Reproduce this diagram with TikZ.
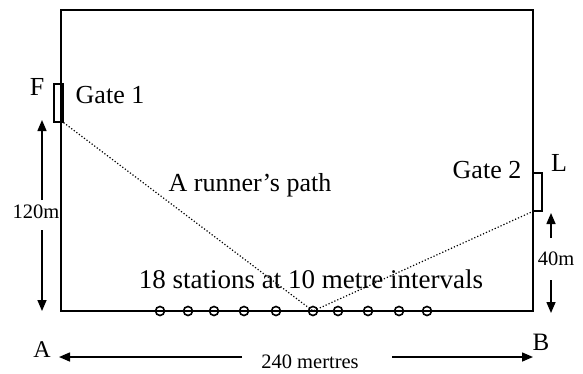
\documentclass[tikz,border=0pt]{standalone}
\usepackage{fontspec}
\setmainfont{Liberation Serif}
\usetikzlibrary{arrows.meta}
\begin{document}
\begin{tikzpicture}[x=1pt,y=-1pt,
  big/.style={inner sep=0pt,font=\fontsize{26}{28}\selectfont},
  small/.style={inner sep=0pt,font=\fontsize{20.5}{22}\selectfont},
  border/.style={line width=2pt},
  gate/.style={draw,line width=1.2pt,minimum width=9pt,minimum height=38pt,inner sep=0pt},
  station/.style={draw,circle,line width=1.6pt,minimum size=9pt,inner sep=0pt},
  path dots/.style={dotted,line width=1.2pt},
  dimarrow/.style={line width=1.5pt,-{Triangle[length=11pt,width=9pt]}}]
\useasboundingbox (0,0) rectangle (583,373);
\fill[white] (0,0) rectangle (583,373);
% field
\draw[border] (61,10) rectangle (533,311);
% gates
\node[gate] (g1) at (58.5,103) {};
\node[gate] (g2) at (537.5,192) {};
\node[big] (gt1) at (110,95) {Gate 1};
\node[big] (gt2) at (487,170) {Gate 2};
\node[big] (F) at (37,87) {F};
\node[big] (L) at (559,163) {L};
% stations
\foreach \x [count=\i] in {160,188,214,244,276,313,338,368,399,427}
  \node[station] (s\i) at (\x,311) {};
% runner path
\draw[path dots] (g1.south east) -- (s6.center) -- (g2.south west);
\node[big] (rp) at (250,185) {A runner’s path};
\node[big,font=\fontsize{27}{29}\selectfont] (st) at (311,279) {18 stations at 10 metre intervals};
% left dimension
\node[small] (h120) at (36,212) {120m};
\coordinate (l1) at (42,200);
\coordinate (l1t) at (42,120);
\coordinate (l2) at (42,230);
\coordinate (l2t) at (42,311);
\draw[dimarrow] (l1) -- (l1t);
\draw[dimarrow] (l2) -- (l2t);
% right dimension
\node[small] (h40) at (556,259) {40m};
\coordinate (r1) at (551,238);
\coordinate (r1t) at (551,213);
\coordinate (r2) at (551,280);
\coordinate (r2t) at (551,313);
\draw[dimarrow] (r1) -- (r1t);
\draw[dimarrow] (r2) -- (r2t);
% bottom dimension
\node[big,font=\fontsize{24}{26}\selectfont] (A) at (42,350) {A};
\node[big,font=\fontsize{25}{27}\selectfont] (B) at (541,342) {B};
\node[small] (w240) at (310,362) {240 mertres};
\coordinate (b1) at (242,357);
\coordinate (b1t) at (59,357);
\coordinate (b2) at (392,357);
\coordinate (b2t) at (533,357);
\draw[dimarrow] (b1) -- (b1t);
\draw[dimarrow] (b2) -- (b2t);
\end{tikzpicture}
\end{document}
